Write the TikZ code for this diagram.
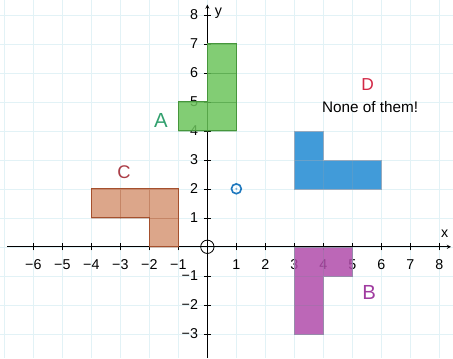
\documentclass[tikz,border=0pt]{standalone}
\usepackage{fontspec}
\setmainfont{Liberation Sans}
\usepackage{xcolor}
\usepackage{tikz}
\definecolor{gridblue}{RGB}{226,242,246}
\definecolor{greenA}{RGB}{108,196,92}
\definecolor{greenAline}{RGB}{70,150,60}
\definecolor{labelA}{RGB}{50,160,110}
\definecolor{brownC}{RGB}{214,150,118}
\definecolor{brownCline}{RGB}{165,80,45}
\definecolor{labelC}{RGB}{170,60,70}
\definecolor{blueD}{RGB}{32,138,210}
\definecolor{blueDline}{RGB}{150,170,190}
\definecolor{labelD}{RGB}{210,40,70}
\definecolor{purpleB}{RGB}{176,76,170}
\definecolor{purpleBline}{RGB}{150,140,170}
\definecolor{labelB}{RGB}{160,60,160}
\definecolor{ringblue}{RGB}{30,120,190}

\begin{document}
\begin{tikzpicture}[>=stealth,
  num/.style={font=\fontsize{14}{16}\selectfont},
  tile/.style={fill opacity=0.85, draw opacity=0.3, very thin},
  outline/.style={thick}]
\useasboundingbox (-7.15,-3.84) rectangle (8.47,8.51);
\draw[step=1cm,gridblue,very thin] (-7.15,-3.84) grid (8.47,8.51);
\draw[thick,->] (-6.9,0) -- (8.4,0);
\draw[thick,->] (0,-3.84) -- (0,8.35);
\node[num] (xlab) at (8.18,0.45) {x};
\node[num] (ylab) at (0.38,8.05) {y};
\foreach \x/\t in {-6/−6,-5/−5,-4/−4,-3/−3,-2/−2,-1/−1,1/1,2/2,3/3,4/4,5/5,6/6,7/7,8/8}
  \draw (\x,-0.12) -- (\x,0.12) node[num] (xt\x) at (\x,-0.6) {\t};
\foreach \y/\t in {-3/−3,-2/−2,-1/−1,1/1,2/2,3/3,4/4,5/5,6/6,7/7,8/8}
  \draw (-0.12,\y) -- (0.12,\y) node[num,anchor=east] (yt\y) at (-0.2,\y) {\t};
% shape A
\foreach \a/\b in {-1/4,0/4,0/5,0/6}
  \filldraw[tile,fill=greenA,draw=greenAline] (\a,\b) rectangle ++(1,1);
\draw[outline,greenAline] (-1,4) -- (1,4) -- (1,7) -- (0,7) -- (0,5) -- (-1,5) -- cycle;
% shape C
\foreach \a/\b in {-4/1,-3/1,-2/1,-2/0}
  \filldraw[tile,fill=brownC,draw=brownCline] (\a,\b) rectangle ++(1,1);
\draw[outline,brownCline] (-4,1) -- (-4,2) -- (-1,2) -- (-1,0) -- (-2,0) -- (-2,1) -- cycle;
% shape D
\foreach \a/\b in {3/2,4/2,5/2,3/3}
  \filldraw[tile,fill=blueD,draw=blueDline] (\a,\b) rectangle ++(1,1);
\draw[outline,blueDline,thin] (3,2) -- (6,2) -- (6,3) -- (4,3) -- (4,4) -- (3,4) -- cycle;
% shape B
\foreach \a/\b in {3/-1,4/-1,3/-2,3/-3}
  \filldraw[tile,fill=purpleB,draw=purpleBline] (\a,\b) rectangle ++(1,1);
\draw[outline,purpleBline,thin] (3,0) -- (5,0) -- (5,-1) -- (4,-1) -- (4,-3) -- (3,-3) -- cycle;
% origin and centre point
\draw[thick] (0,0) circle (0.23);
\draw[ringblue,line width=1.6pt] (1,2) circle (0.17);
\fill[ringblue!60] (1,2) circle (0.04);
% labels
\node[labelA,font=\fontsize{20}{22}\selectfont] (A) at (-1.6,4.34) {A};
\node[labelC,font=\fontsize{18}{20}\selectfont] (C) at (-2.87,2.59) {C};
\node[labelD,font=\fontsize{17}{19}\selectfont] (D) at (5.53,5.58) {D};
\node[font=\fontsize{15}{17}\selectfont] (none) at (5.61,4.83) {None of them!};
\node[labelB,font=\fontsize{20}{22}\selectfont] (B) at (5.58,-1.59) {B};
\end{tikzpicture}
\end{document}
